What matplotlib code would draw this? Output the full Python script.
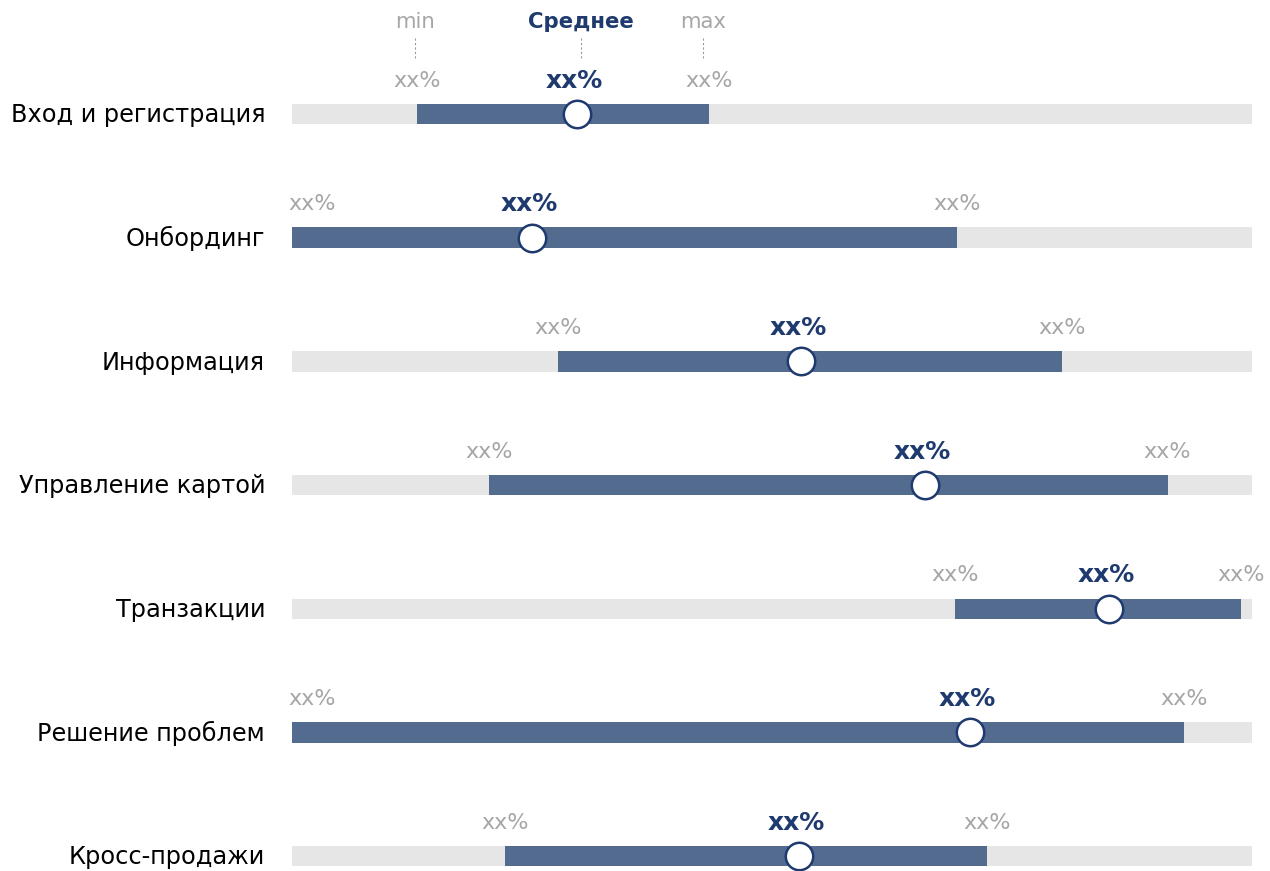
import matplotlib.pyplot as plt

# Ranges per section (0-100 scale): min, average, max
categories = ["Вход и регистрация", "Онбординг", "Информация", "Управление картой",
              "Транзакции", "Решение проблем", "Кросс-продажи"]
min_vals = [13.0, 0.0, 27.7, 20.5, 69.1, 0.0, 22.2]
avg_vals = [29.7, 25.0, 53.0, 65.9, 85.1, 70.6, 52.8]
max_vals = [43.4, 69.3, 80.2, 91.2, 98.9, 92.9, 72.4]
value_label = "xx%"

track_color = "#E6E6E6"
bar_color = "#536B8F"
navy = "#1F3A6E"
gray = "#A6A6A6"

plt.rcParams['font.family'] = ['DejaVu Sans']

fig = plt.figure(figsize=(12.7, 8.71), dpi=100)
ax = fig.add_axes([292 / 1270, 0, 960 / 1270, 1])
ax.set_xlim(0, 100)
ax.set_ylim(6.12, -0.9216)
ax.axis("off")

bar_h = 0.165
label_dy = 0.27
fs = 16

for i, cat in enumerate(categories):
    lo, mid, hi = min_vals[i], avg_vals[i], max_vals[i]
    ax.barh(i, 100, height=bar_h, color=track_color, left=0, zorder=1)
    ax.barh(i, hi - lo, height=bar_h, left=lo, color=bar_color, zorder=2)
    ax.scatter([mid], [i], s=390, facecolor="white", edgecolor=navy,
               linewidth=1.8, zorder=3, clip_on=False)

    ax.text(-2.8, i + 0.01, cat, ha="right", va="center", fontsize=17.3,
            color="black", clip_on=False)
    if lo <= 1:
        ax.text(-0.4, i - label_dy, value_label, ha="left", va="center",
                fontsize=fs, color=gray, clip_on=False)
    else:
        ax.text(lo, i - label_dy, value_label, ha="center", va="center",
                fontsize=fs, color=gray, clip_on=False)
    ax.text(hi, i - label_dy, value_label, ha="center", va="center",
            fontsize=fs, color=gray, clip_on=False)
    ax.text(mid - 0.3, i - label_dy, value_label, ha="center", va="center",
            fontsize=18, color=navy, fontweight="bold", clip_on=False)

# legend header above the first row
head_y = -0.744
line_top, line_bot = -0.615, -0.437
for x, txt, col, w in [(min_vals[0] - 0.2, "min", gray, "normal"),
                       (avg_vals[0] + 0.4, "Среднее", navy, "bold"),
                       (max_vals[0] - 0.6, "max", gray, "normal")]:
    ax.text(x, head_y, txt, ha="center", va="center", fontsize=15.3,
            color=col, fontweight=w, clip_on=False)
    ax.plot([x, x], [line_top, line_bot], color="#999999", lw=0.8,
            ls=(0, (2, 2)), clip_on=False)

fig.savefig("out.png", dpi=100)
